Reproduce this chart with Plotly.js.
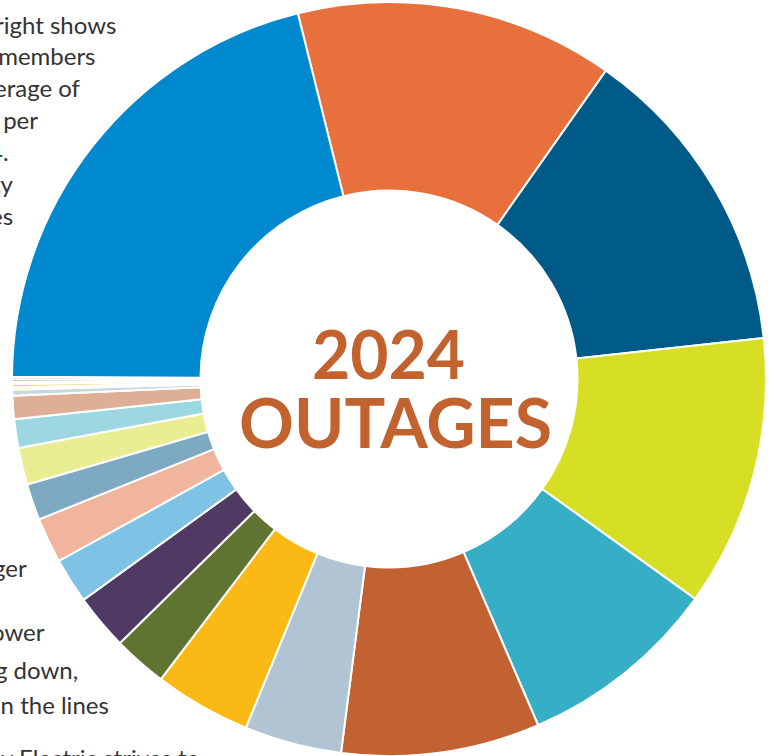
<!DOCTYPE html>
<html>
<head>
<meta charset="utf-8">
<script src="https://cdn.plot.ly/plotly-3.0.1.min.js"></script>
<style>html,body{margin:0;padding:0;background:#fff;}#chart{width:774px;height:756px;}</style>
</head>
<body>
<div id="chart"></div>
<script>
// Outage share by cause (degrees of the ring)
const causes = [
  "Cause 1", "Cause 2", "Cause 3", "Cause 4", "Cause 5", "Cause 6",
  "Cause 7", "Cause 8", "Cause 9", "Cause 10", "Cause 11", "Cause 12",
  "Cause 13", "Cause 14", "Cause 15", "Cause 16", "Cause 17", "Cause 18",
  "Cause 19", "Cause 20", "Cause 21", "Cause 22"
];
const shares = [
  49.1, 48.6, 41.9, 31.0, 30.6, 15.0,
  14.9, 8.3, 8.6, 7.0, 7.0, 5.6,
  5.7, 4.4, 3.6, 0.9, 0.4, 0.5,
  0.3, 0.4, 0.4, 75.6
];
const sliceColors = [
  "#E8703D", "#005A87", "#D6DF23", "#36AFC6", "#C26131", "#B0C4D4",
  "#FBB916", "#607431", "#4E3A62", "#7EC3E6", "#F1B49C", "#7DA9C2",
  "#E9EE92", "#9DD7E2", "#DFAE97", "#C9D5E1", "#F3EFD8", "#FCCB5E",
  "#F1EEDF", "#8D9B58", "#9489B0", "#0089CF"
];
const centerLines = ["2024", "OUTAGES"];
const sideLines = [
  "right shows", " members", "erage of", " per", "4.", "ty", "es",
  "ger", "ower", "g down,", "on the lines", "y Electric strives to"
];

const W = 774, H = 756;
const cx = 389, cy = 379, R = 377;

const trace = {
  type: "pie",
  labels: causes,
  values: shares,
  sort: false,
  direction: "clockwise",
  rotation: -14,
  hole: 0.5,
  textinfo: "none",
  hoverinfo: "label+percent",
  marker: { colors: sliceColors, line: { color: "#ffffff", width: 2 } },
  domain: { x: [(cx - R) / W, (cx + R) / W], y: [(H - cy - R) / H, (H - cy + R) / H] }
};

const txtFont = { family: "Lato, 'Open Sans', sans-serif", size: 24, color: "#333333" };
// [right edge px, middle px]
const sidePos = [
  [118, 24], [97, 55], [83, 87], [40, 119], [11, 151], [16, 183], [15, 215],
  [29, 567], [47, 631], [80, 669], [111, 704], [202, 758]
];
const annotations = sideLines.map((t, i) => ({
  text: t, xref: "paper", yref: "paper",
  x: sidePos[i][0] / W, y: 1 - sidePos[i][1] / H,
  xanchor: "right", yanchor: "middle", showarrow: false, font: txtFont
}));
annotations.push({
  text: centerLines[0], xref: "paper", yref: "paper", x: 388.5 / W, y: 1 - 353.5 / H,
  xanchor: "center", yanchor: "middle", showarrow: false,
  font: { family: "Lato, sans-serif", size: 66, color: "#C2622F", weight: 700 }
});
annotations.push({
  text: centerLines[1], xref: "paper", yref: "paper", x: 395 / W, y: 1 - 421 / H,
  xanchor: "center", yanchor: "middle", showarrow: false,
  font: { family: "Lato, sans-serif", size: 68, color: "#C2622F", weight: 700 }
});

const layout = {
  width: W, height: H,
  margin: { l: 0, r: 0, t: 0, b: 0 },
  paper_bgcolor: "#ffffff",
  showlegend: false,
  annotations: annotations
};

Plotly.newPlot("chart", [trace], layout, { displayModeBar: false, staticPlot: true });
</script>
</body>
</html>
